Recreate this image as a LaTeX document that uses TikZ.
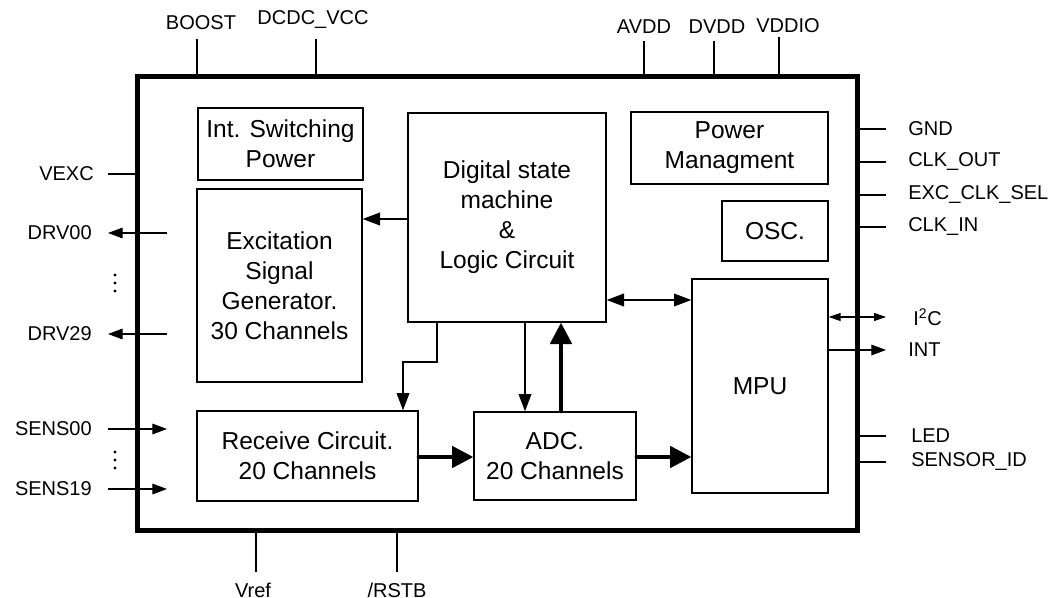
\documentclass[tikz,border=0pt]{standalone}
\usepackage{fontspec}
\setmainfont{Liberation Sans}
\usetikzlibrary{arrows.meta}
\begin{document}
\begin{tikzpicture}[x=0.75pt,y=-0.75pt,
  blk/.style={draw, line width=1pt, align=center, inner sep=0pt,
    font=\fontsize{18.4}{22.5}\selectfont},
  sz/.style 2 args={minimum width=#1*0.75pt, minimum height=#2*0.75pt},
  lbl/.style={inner sep=0pt, font=\fontsize{15}{18}\selectfont},
  pinline/.style={line width=0.8pt},
  pinarr/.style={line width=0.8pt, -{Triangle[length=11pt,width=8pt]}},
  smallbi/.style={line width=0.8pt, {Triangle[length=9pt,width=6pt]}-{Triangle[length=9pt,width=6pt]}},
  midarr/.style={line width=1.2pt, -{Triangle[length=13pt,width=9.5pt]}},
  midbi/.style={line width=1.2pt, {Triangle[length=13pt,width=9.5pt]}-{Triangle[length=13pt,width=9.5pt]}},
  thickarr/.style={line width=3pt, line cap=round, -{Triangle[length=16pt,width=16pt]}},
  dotc/.style={fill=black}
]
\useasboundingbox (0,0) rectangle (1062,598);

% outer chip
\node[draw, line width=3.75pt, sz={720}{453}, inner sep=0pt] (outer) at (497,303.5) {};

% blocks
\node[blk, sz={165}{72}] (isw) at (280.5,144) {Int. Switching\\Power};
\node[blk, sz={165}{193}] (exc) at (279.5,285.5) {Excitation\\Signal\\Generator.\\30 Channels};
\node[blk, sz={198}{209}] (dig) at (507,217.5) {Digital state\\machine\\\&\\Logic Circuit};
\node[blk, sz={197}{72}] (pwr) at (729.5,148) {Power\\Managment};
\node[blk, sz={106}{60}] (osc) at (775,231) {OSC.};
\node[blk, sz={136}{214}] (mpu) at (760,386) {MPU};
\node[blk, sz={221}{90}] (rec) at (307.5,456) {Receive Circuit.\\20 Channels};
\node[blk, sz={162}{88}] (adc) at (555,456) {ADC.\\20 Channels};

% helper coordinates
\coordinate (y219) at (0,219);
\coordinate (y300) at (0,300);
\coordinate (y457) at (0,457);
\coordinate (c437) at (437,0);
\coordinate (c525) at (525,0);
\coordinate (c561) at (561,0);
\coordinate (bend) at (403,362);

% internal connectors
\draw[midarr] (dig.west |- y219) -- (exc.east |- y219);
\draw[midbi] (dig.east |- y300) -- (mpu.west |- y300);
\draw[midarr] (dig.south -| c437) -- (c437 |- bend) -- (bend) -- (rec.north -| bend);
\draw[midarr] (dig.south -| c525) -- (adc.north -| c525);
\draw[thickarr] (adc.north -| c561) -- (dig.south -| c561);
\draw[thickarr] (rec.east |- y457) -- (adc.west |- y457);
\draw[thickarr] (adc.east |- y457) -- (mpu.west |- y457);

% top pins
\coordinate (pBoost) at (197,39);
\coordinate (pDcdc) at (316,39);
\coordinate (pAvdd) at (644,41);
\coordinate (pDvdd) at (714,41);
\coordinate (pVddio) at (779,37);
\draw[pinline] (pBoost) -- (outer.north -| pBoost);
\draw[pinline] (pDcdc) -- (outer.north -| pDcdc);
\draw[pinline] (pAvdd) -- (outer.north -| pAvdd);
\draw[pinline] (pDvdd) -- (outer.north -| pDvdd);
\draw[pinline] (pVddio) -- (outer.north -| pVddio);
\node[lbl] (lBoost) at (201,23) {BOOST};
\node[lbl] (lDcdc) at (313,20) {DCDC\_VCC};
\node[lbl] (lAvdd) at (644,27) {AVDD};
\node[lbl] (lDvdd) at (717,27) {DVDD};
\node[lbl] (lVddio) at (788,26) {VDDIO};

% right pins
\coordinate (pGnd) at (886,129);
\coordinate (pClkout) at (886,162);
\coordinate (pExc) at (886,195);
\coordinate (pClkin) at (886,227);
\coordinate (pI2c) at (886,317);
\coordinate (pInt) at (886,350);
\coordinate (pLed) at (886,436);
\coordinate (pSid) at (886,462);
\draw[pinline] (outer.east |- pGnd) -- (pGnd);
\draw[pinline] (outer.east |- pClkout) -- (pClkout);
\draw[pinline] (outer.east |- pExc) -- (pExc);
\draw[pinline] (outer.east |- pClkin) -- (pClkin);
\draw[smallbi] (mpu.east |- pI2c) -- (pI2c);
\draw[pinarr] (mpu.east |- pInt) -- (pInt);
\draw[pinline] (outer.east |- pLed) -- (pLed);
\draw[pinline] (outer.east |- pSid) -- (pSid);
\node[lbl, anchor=west] (lGnd) at (908,129) {GND};
\node[lbl, anchor=west] (lClkout) at (908,162) {CLK\_OUT};
\node[lbl, anchor=west] (lExc) at (908,195) {EXC\_CLK\_SEL};
\node[lbl, anchor=west] (lClkin) at (908,227) {CLK\_IN};
\node[lbl, anchor=west] (lI2c) at (913,317) {I\textsuperscript{2}C};
\node[lbl, anchor=west] (lInt) at (908,350) {INT};
\node[lbl, anchor=west] (lLed) at (911,436) {LED};
\node[lbl, anchor=west] (lSid) at (911,462) {SENSOR\_ID};

% left pins
\coordinate (pVexc) at (108,174);
\coordinate (dA) at (167,233);
\coordinate (dAo) at (108,233);
\coordinate (dB) at (167,334);
\coordinate (dBo) at (108,334);
\coordinate (sA) at (108,429);
\coordinate (sAi) at (167,429);
\coordinate (sB) at (108,489);
\coordinate (sBi) at (167,489);
\draw[pinline] (pVexc) -- (outer.west |- pVexc);
\draw[pinarr] (dA) -- (dAo);
\draw[pinarr] (dB) -- (dBo);
\draw[pinarr] (sA) -- (sAi);
\draw[pinarr] (sB) -- (sBi);
\node[lbl, anchor=east] (lVexc) at (94,174) {VEXC};
\node[lbl, anchor=east] (lDrv0) at (92,233) {DRV00};
\node[lbl, anchor=east] (lDrv29) at (92,334) {DRV29};
\node[lbl, anchor=east] (lSens0) at (92,429) {SENS00};
\node[lbl, anchor=east] (lSens19) at (92,489) {SENS19};
\foreach \yy in {275,283,291,452,460,468} \fill[dotc] (115,\yy) circle (1.3pt);

% bottom pins
\coordinate (pVref) at (256,572);
\coordinate (pRstb) at (397,572);
\draw[pinline] (outer.south -| pVref) -- (pVref);
\draw[pinline] (outer.south -| pRstb) -- (pRstb);
\node[lbl] (lVref) at (253,590) {Vref};
\node[lbl] (lRstb) at (397,590) {/RSTB};
\end{tikzpicture}
\end{document}
